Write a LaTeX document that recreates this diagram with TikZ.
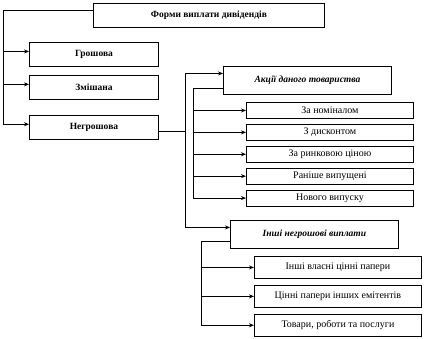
\documentclass[tikz,border=0pt]{standalone}
\usepackage{fontspec}
\setmainfont{Liberation Serif}
\usepackage{tikz}
\usetikzlibrary{arrows.meta,positioning}

\begin{document}
\begin{tikzpicture}[x=1pt, y=-1pt, every node/.style={font=\fontsize{9.5}{11}\selectfont}, box/.style={draw, line width=0.9pt, inner sep=2pt, align=center}, mainbox/.style={box, font=\fontsize{9.5}{11}\selectfont\bfseries, minimum width=129pt, minimum height=24pt}, groupbox/.style={box, font=\fontsize{9.5}{11}\selectfont\bfseries\itshape, minimum width=168pt, minimum height=28pt}, sharebox/.style={box, font=\fontsize{10}{11}\selectfont, minimum width=167pt, minimum height=16pt}, otherbox/.style={box, font=\fontsize{10}{11}\selectfont, minimum width=167pt, minimum height=22pt}, wire/.style={line width=0.9pt}, arr/.style={wire, -{Stealth[length=5pt, width=4pt]}}]
\useasboundingbox (0,0) rectangle (426,338);
\node[box, anchor=north west, font=\fontsize{9.5}{11}\selectfont\bfseries, minimum width=231pt, minimum height=24pt] (forms) at (93,3) {Форми виплати дивідендів};
\node[mainbox, anchor=north west] (cash) at (29,42) {Грошова};
\node[mainbox, below=8pt of cash] (mixed) {Змішана};
\node[mainbox, below=15pt of mixed] (noncash) {Негрошова};
\node[groupbox, anchor=north west] (shares) at (223,66) {Акції даного товариства};
\node[sharebox, anchor=north west] (nominal) at (246,102) {За номіналом};
\node[sharebox, below=5pt of nominal] (discount) {З дисконтом};
\node[sharebox, below=5pt of discount] (market) {За ринковою ціною};
\node[sharebox, below=5pt of market] (earlier) {Раніше випущені};
\node[sharebox, below=5pt of earlier] (newissue) {Нового випуску};
\node[groupbox, anchor=north west] (other) at (230,220) {Інші негрошові виплати};
\node[otherbox, anchor=north west] (ownsec) at (254,256) {Інші власні цінні папери};
\node[otherbox, below=6pt of ownsec] (issuers) {Цінні папери інших емітентів};
\node[otherbox, below=6pt of issuers] (goods) {Товари, роботи та послуги};
\coordinate (mainbus) at (3,0);
\coordinate (noncashbus) at (185,0);
\coordinate (sharesbus) at (193,0);
\coordinate (otherbus) at (201,0);
\draw[wire] ([yshift=5pt]forms.west) -| ([yshift=3pt]noncash.west -| mainbus);
\foreach \n in {cash,mixed,noncash}
  \draw[arr] ([yshift=3pt]\n.west -| mainbus) -- ([yshift=3pt]\n.west);
\draw[wire] ([yshift=-4pt]noncash.east) -- ([yshift=-4pt]noncash.east -| noncashbus);
\draw[arr] ([yshift=7pt]other.west -| noncashbus) |- ([yshift=7pt]shares.west);
\draw[arr] ([yshift=7pt]other.west -| noncashbus) -- ([yshift=7pt]other.west);
\draw[wire] ([yshift=-8pt]shares.west) -| (newissue.west -| sharesbus);
\foreach \n in {nominal,discount,market,earlier,newissue}
  \draw[arr] (\n.west -| sharesbus) -- (\n.west);
\draw[wire] ([yshift=-7pt]other.west) -| (goods.west -| otherbus);
\foreach \n in {ownsec,issuers,goods}
  \draw[arr] (\n.west -| otherbus) -- (\n.west);
\end{tikzpicture}
\end{document}
